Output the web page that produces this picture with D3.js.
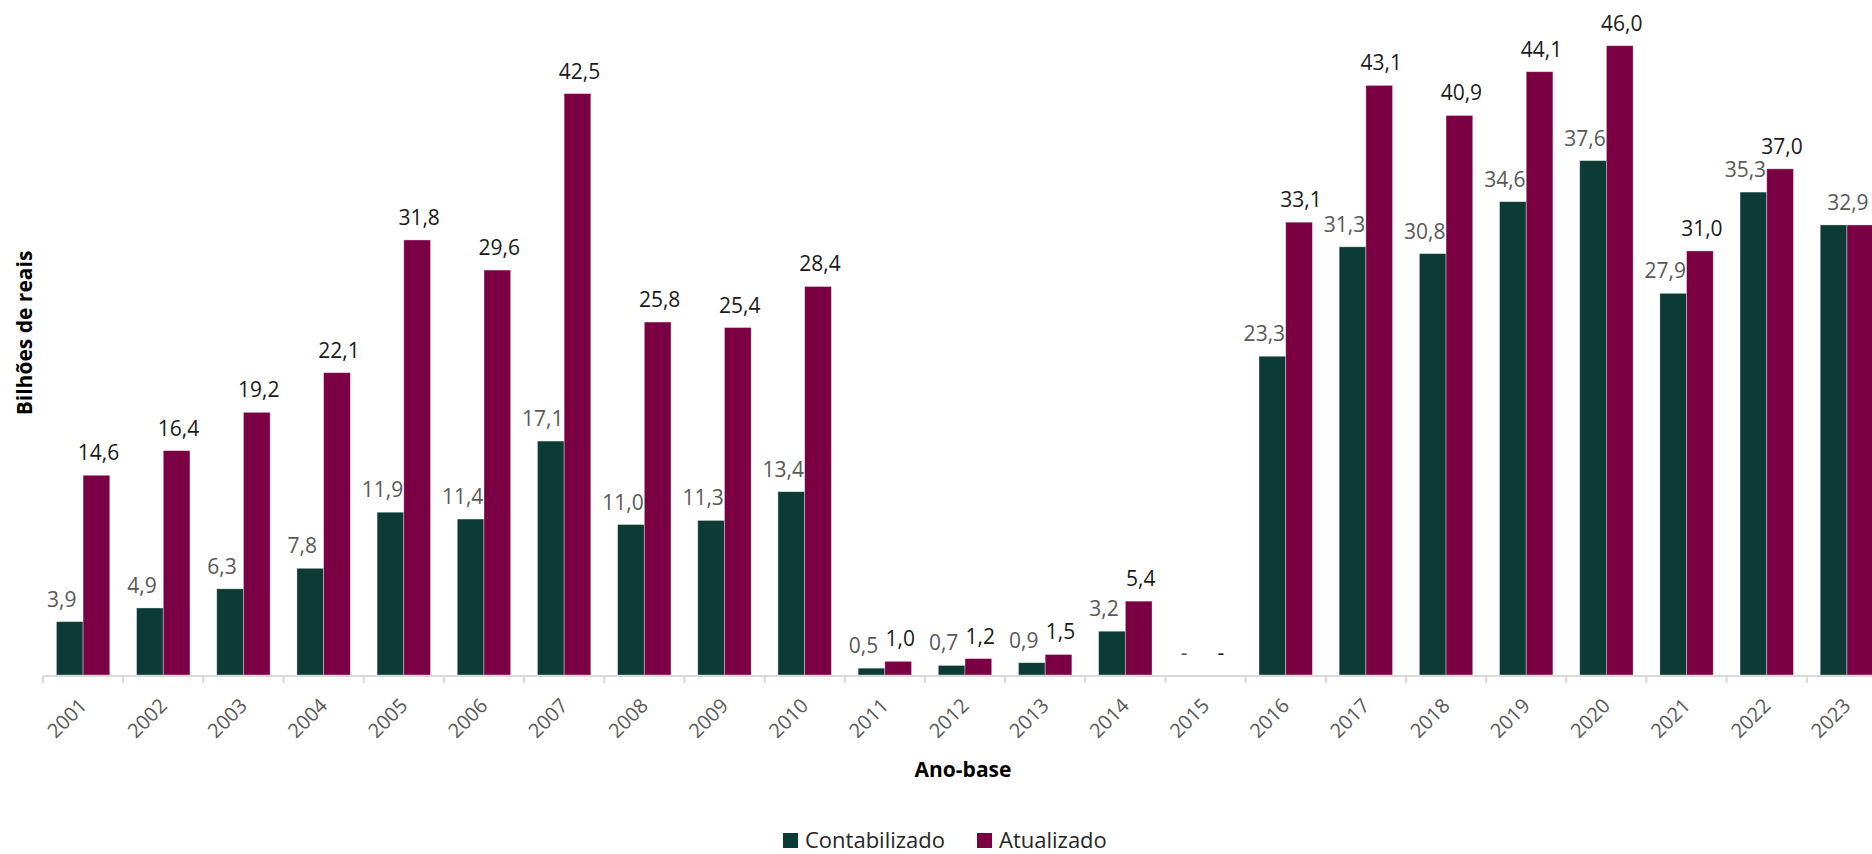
<!DOCTYPE html>
<html><head><meta charset="utf-8">
<script src="https://cdn.jsdelivr.net/npm/d3@7"></script>
<style>html,body{margin:0;padding:0;background:#fff;}svg{display:block;font-family:"Open Sans",sans-serif;}</style>
</head><body><svg id="c" width="1872" height="854"></svg>
<script>
const years = ["2001","2002","2003","2004","2005","2006","2007","2008","2009","2010","2011","2012","2013","2014","2015","2016","2017","2018","2019","2020","2021","2022","2023"];
const contabilizado = [3.9,4.9,6.3,7.8,11.9,11.4,17.1,11.0,11.3,13.4,0.5,0.7,0.9,3.2,0,23.3,31.3,30.8,34.6,37.6,27.9,35.3,32.9];
const atualizado = [14.6,16.4,19.2,22.1,31.8,29.6,42.5,25.8,25.4,28.4,1.0,1.2,1.5,5.4,0,33.1,43.1,40.9,44.1,46.0,31.0,37.0,32.9];
const seriesNames = ["Contabilizado","Atualizado"];
const colors = ["#0b3b34","#7a0043"];

const svg = d3.select("#c");
const x0 = 43, x1 = 1887, yBase = 675, yTop = 45.7;
const x = d3.scaleBand().domain(years).range([x0, x1]).paddingInner(0.334).paddingOuter(0.167);
const xs = d3.scaleBand().domain(seriesNames).range([0, x.bandwidth()]);
const y = d3.scaleLinear().domain([0, 46]).range([yBase, yTop]);
const fmt = v => v === 0 ? "-" : d3.format(".1f")(v).replace(".", ",");

const data = years.map((yr, i) => ({yr, vals: [contabilizado[i], atualizado[i]], i}));

const g = svg.append("g");
const groups = g.selectAll("g.grp").data(data).join("g").attr("class","grp")
  .attr("transform", d => `translate(${x(d.yr)},0)`);
groups.selectAll("rect").data(d => d.vals.map((v,k)=>({v,k}))).join("rect")
  .attr("x", d => xs(seriesNames[d.k]))
  .attr("width", xs.bandwidth())
  .attr("y", d => y(d.v))
  .attr("height", d => yBase - y(d.v))
  .attr("fill", d => colors[d.k])
  .attr("stroke", "rgba(255,255,255,0.45)").attr("stroke-width", 0.8);

// data labels
const last = years.length - 1;
const LFS = 21;
groups.each(function(d){
  const gg = d3.select(this);
  const cx = d.i === last ? x.bandwidth()/2 + 1 : xs(seriesNames[0]) + xs.bandwidth()/2 - 8;
  gg.append("text").attr("x", cx).attr("y", y(d.vals[0]) - 15)
    .attr("text-anchor","middle").attr("font-size", LFS).attr("fill","#595959")
    .text(fmt(d.vals[0]));
  if (d.i !== last) {
    gg.append("text").attr("x", xs(seriesNames[1]) + xs.bandwidth()/2 + 2).attr("y", y(d.vals[1]) - 15)
      .attr("text-anchor","middle").attr("font-size", LFS).attr("fill","#1a1a1a")
      .text(fmt(d.vals[1]));
  }
});

// axis
const ax = svg.append("g").attr("transform", `translate(0,${yBase})`)
  .call(d3.axisBottom(x).tickSize(0).tickPadding(0));
ax.select(".domain").remove();
ax.selectAll("text").attr("font-size", 20).attr("fill", "#595959")
  .attr("font-family", '"Open Sans",sans-serif')
  .attr("text-anchor","end").attr("dy", null)
  .attr("transform", "translate(5,32) rotate(-45)").attr("y", 0).attr("x", 0);
svg.append("line").attr("x1", x0).attr("x2", x1).attr("y1", yBase + 1).attr("y2", yBase + 1)
  .attr("stroke", "#d9d9d9").attr("stroke-width", 2);
svg.append("g").selectAll("line").data(years.concat(["end"])).join("line")
  .attr("x1", (d,i) => x0 + i * x.step()).attr("x2", (d,i) => x0 + i * x.step())
  .attr("y1", yBase + 1).attr("y2", yBase + 8)
  .attr("stroke", "#d9d9d9").attr("stroke-width", 2);

// titles
svg.append("text").attr("transform", "translate(32,333) rotate(-90)")
  .attr("text-anchor","middle").attr("font-size", 21).attr("font-weight","bold").attr("fill","#000")
  .text("Bilhões de reais");
svg.append("text").attr("x", 963).attr("y", 777)
  .attr("text-anchor","middle").attr("font-size", 21).attr("font-weight","bold").attr("fill","#000")
  .text("Ano-base");

// legend
const legX = [783, 977];
const leg = svg.append("g").selectAll("g").data(seriesNames).join("g")
  .attr("transform", (d,i) => `translate(${legX[i]},833)`);
leg.append("rect").attr("width", 15).attr("height", 15).attr("fill", (d,i) => colors[i]);
leg.append("text").attr("x", 22).attr("y", 15).attr("font-size", 22).attr("fill", "#262626").text(d => d);
</script></body></html>
